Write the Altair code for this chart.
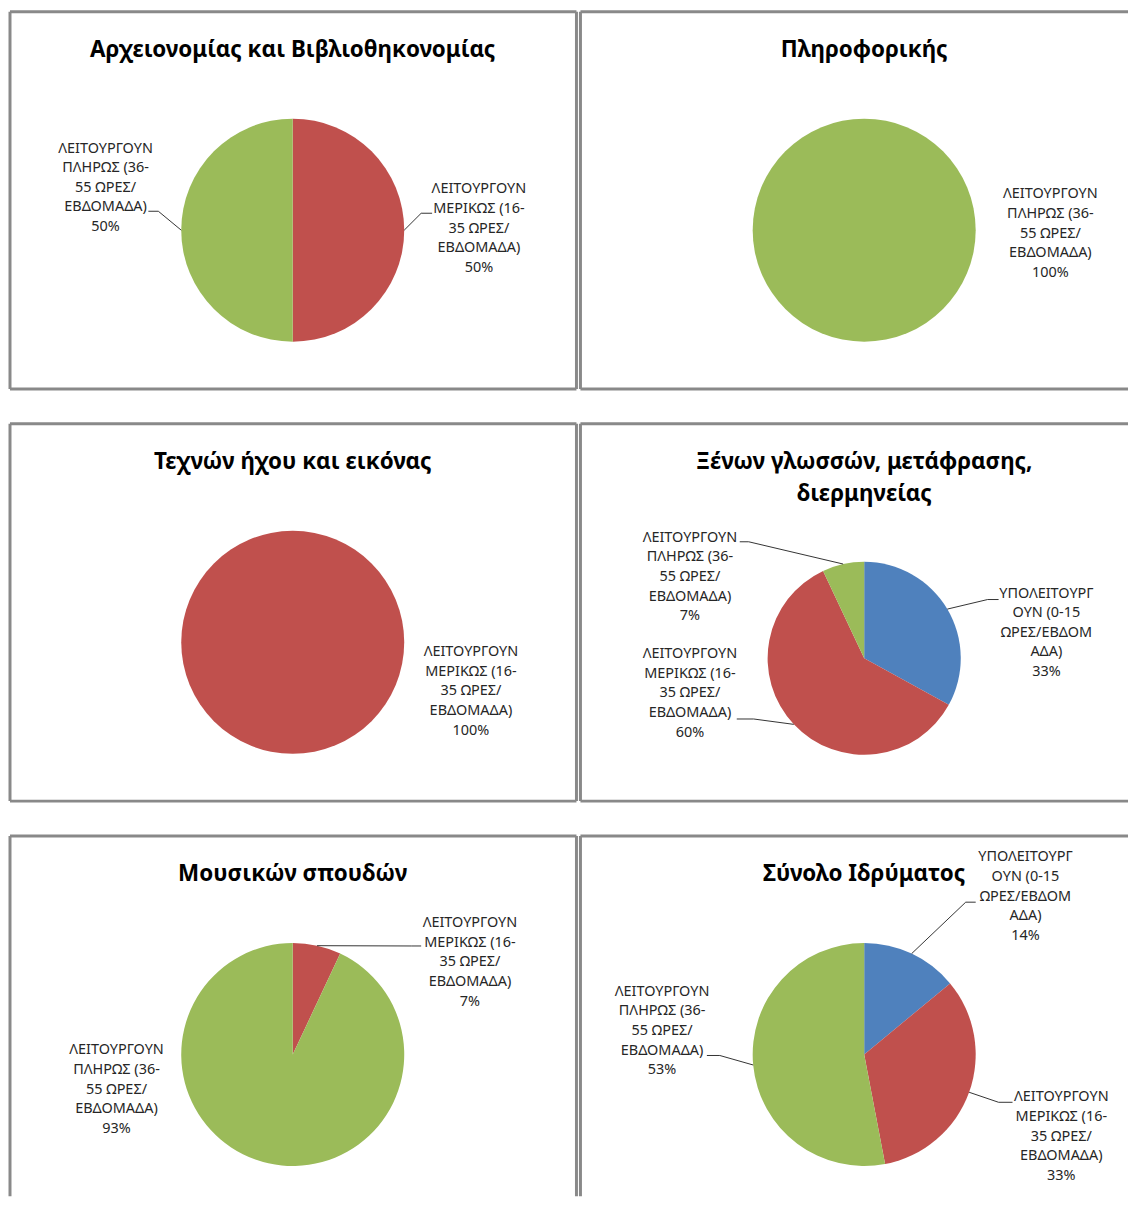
import altair as alt
import pandas as pd

# ---------------- data ----------------
CATEGORIES = ["ΥΠΟΛΕΙΤΟΥΡΓΟΥΝ", "ΛΕΙΤΟΥΡΓΟΥΝ ΜΕΡΙΚΩΣ", "ΛΕΙΤΟΥΡΓΟΥΝ ΠΛΗΡΩΣ"]
CATEGORY_TEXT = [
    "ΥΠΟΛΕΙΤΟΥΡΓ\nΟΥΝ (0-15\nΩΡΕΣ/ΕΒΔΟΜ\nΑΔΑ)",
    "ΛΕΙΤΟΥΡΓΟΥΝ\nΜΕΡΙΚΩΣ (16-\n35 ΩΡΕΣ/\nΕΒΔΟΜΑΔΑ)",
    "ΛΕΙΤΟΥΡΓΟΥΝ\nΠΛΗΡΩΣ (36-\n55 ΩΡΕΣ/\nΕΒΔΟΜΑΔΑ)",
]
COLORS = ["#4F81BD", "#C0504D", "#9BBB59"]

TITLES = [
    "Αρχειονομίας και Βιβλιοθηκονομίας",
    "Πληροφορικής",
    "Τεχνών ήχου και εικόνας",
    "Ξένων γλωσσών, μετάφρασης,\nδιερμηνείας",
    "Μουσικών σπουδών",
    "Σύνολο Ιδρύματος",
]

# percentages per category (ΥΠΟ, ΜΕΡΙΚΩΣ, ΠΛΗΡΩΣ)
VAL_ARCHIVES = [0, 50, 50]
VAL_INFORMATICS = [0, 0, 100]
VAL_SOUND_IMAGE = [0, 100, 0]
VAL_LANGUAGES = [33, 60, 7]
VAL_MUSIC = [0, 7, 93]
VAL_TOTAL = [14, 33, 53]
VALUES = [VAL_ARCHIVES, VAL_INFORMATICS, VAL_SOUND_IMAGE, VAL_LANGUAGES, VAL_MUSIC, VAL_TOTAL]

# ---------------- layout (pixels inside each panel) ----------------
W_LEFT, W_RIGHT = 569, 550
ROW_H = [379, 379, 362]
# label: (text centre x, first line y, elbow x, elbow y, end x, end y)
LAYOUT = [
    dict(w=W_LEFT, cx=284, cy=219.5, r=112, ty=38.5,
         labels={2: (96, 137.5, 149, 200.5, 139, 200.5), 1: (471, 178.5, 413, 202.5, 424, 202.5)}),
    dict(w=W_RIGHT, cx=285, cy=219.5, r=112, ty=38.5,
         labels={2: (472, 183.5, None, None, None, None)}),
    dict(w=W_LEFT, cx=284, cy=219.5, r=112, ty=38.5,
         labels={1: (463, 229.5, None, None, None, None)}),
    dict(w=W_RIGHT, cx=285, cy=235.5, r=97, ty=38.5,
         labels={2: (110, 114.5, 169, 118.5, 160, 118.5),
                 1: (110, 231.5, 174, 296.5, 157, 296.5),
                 0: (468, 170.5, 409, 176.5, 420, 176.5)}),
    dict(w=W_LEFT, cx=284, cy=219.5, r=112, ty=38.5,
         labels={1: (462, 87.5, 403, 110.5, 413, 110.5),
                 2: (107, 215.5, None, None, None, None)}),
    dict(w=W_RIGHT, cx=285, cy=219.5, r=112, ty=38.5,
         labels={0: (447, 21.5, 387, 66.5, 397, 66.5),
                 1: (483, 262.5, 420, 267.5, 434, 267.5),
                 2: (82, 156.5, 140, 220.5, 127, 220.5)}),
]

FONT = "Noto Sans"
TEXT_COLOR = "#262626"
LEADER_COLOR = "#333333"
FRAME_COLOR = "#898989"


def frame(w, h, right=True, bottom=True):
    one = pd.DataFrame({"k": [0]})
    parts = [
        alt.Chart(one).mark_rule(color=FRAME_COLOR, strokeWidth=3).encode(
            x=alt.value(0), x2=alt.value(w), y=alt.value(0)),
        alt.Chart(one).mark_rule(color=FRAME_COLOR, strokeWidth=3).encode(
            x=alt.value(0), y=alt.value(0), y2=alt.value(h)),
    ]
    if right:
        parts.append(alt.Chart(one).mark_rule(color=FRAME_COLOR, strokeWidth=3).encode(
            x=alt.value(w), y=alt.value(0), y2=alt.value(h)))
    if bottom:
        parts.append(alt.Chart(one).mark_rule(color=FRAME_COLOR, strokeWidth=3).encode(
            x=alt.value(0), x2=alt.value(w), y=alt.value(h)))
    return parts


def panel(i):
    vals = VALUES[i]
    L = LAYOUT[i]
    row, col = divmod(i, 2)
    h = ROW_H[row]
    cx, cy, r = L["cx"], L["cy"], L["r"]
    rows = []
    for k in range(3):
        if vals[k] > 0:
            lab = L["labels"][k]
            rows.append(dict(cat=CATEGORIES[k], ord=k, value=vals[k], lines=CATEGORY_TEXT[k],
                             lx=lab[0], ly=lab[1],
                             ex=lab[2] if lab[2] is not None else 0,
                             ey=lab[3] if lab[3] is not None else 0,
                             tx=lab[4] if lab[4] is not None else 0,
                             ty=lab[5] if lab[5] is not None else 0,
                             lead=lab[2] is not None))
    df = pd.DataFrame(rows)

    base = (
        alt.Chart(df)
        .transform_joinaggregate(total="sum(value)")
        .transform_window(cum="sum(value)", sort=[alt.SortField("ord", order="ascending")], frame=[None, 0])
        .transform_calculate(mid="2*PI*(datum.cum - datum.value/2)/datum.total")
        .transform_calculate(
            px=f"{cx} + {r}*sin(datum.mid)",
            py=f"{cy} - {r}*cos(datum.mid)",
            label="datum.lines + '\\n' + format(datum.value/datum.total, '.0%')",
        )
    )

    arc = base.mark_arc(radius=r).encode(
        theta=alt.Theta("value:Q", stack=True),
        color=alt.Color("cat:N", scale=alt.Scale(domain=CATEGORIES, range=COLORS), legend=None),
        order=alt.Order("ord:Q"),
        x=alt.value(cx),
        y=alt.value(cy),
    )

    leaders = base.transform_filter("datum.lead")
    rule1 = leaders.mark_rule(color=LEADER_COLOR, strokeWidth=1).encode(
        x=alt.X("px:Q", scale=None), y=alt.Y("py:Q", scale=None),
        x2="ex:Q", y2="ey:Q",
    )
    rule2 = leaders.mark_rule(color=LEADER_COLOR, strokeWidth=1).encode(
        x=alt.X("ex:Q", scale=None), y=alt.Y("ey:Q", scale=None),
        x2="tx:Q", y2="ty:Q",
    )

    text = base.mark_text(
        align="center", baseline="middle", lineBreak="\n", lineHeight=19.7,
        font=FONT, fontSize=14.5, color=TEXT_COLOR,
    ).encode(
        x=alt.X("lx:Q", scale=None), y=alt.Y("ly:Q", scale=None), text="label:N"
    )

    title = alt.Chart(pd.DataFrame({"t": [TITLES[i]]})).mark_text(
        align="center", baseline="middle", lineBreak="\n", lineHeight=32,
        font=FONT, fontSize=22.5, fontWeight="bold", color="#000000",
    ).encode(text="t:N", x=alt.value(cx), y=alt.value(L["ty"]))

    layers = frame(L["w"], h, right=(col == 0), bottom=(row < 2)) + [arc]
    if df["lead"].any():
        layers += [rule1, rule2]
    layers += [text, title]
    return alt.layer(*layers).properties(width=L["w"], height=h)


rows = [alt.hconcat(panel(2 * j), panel(2 * j + 1), spacing=0) for j in range(3)]
chart = (
    alt.vconcat(*rows, spacing=31)
    .properties(padding={"left": 0, "top": -1, "right": 0, "bottom": 0})
    .configure_view(stroke=None)
)

chart.save("out.html", embed_options={"renderer": "svg", "actions": False})
